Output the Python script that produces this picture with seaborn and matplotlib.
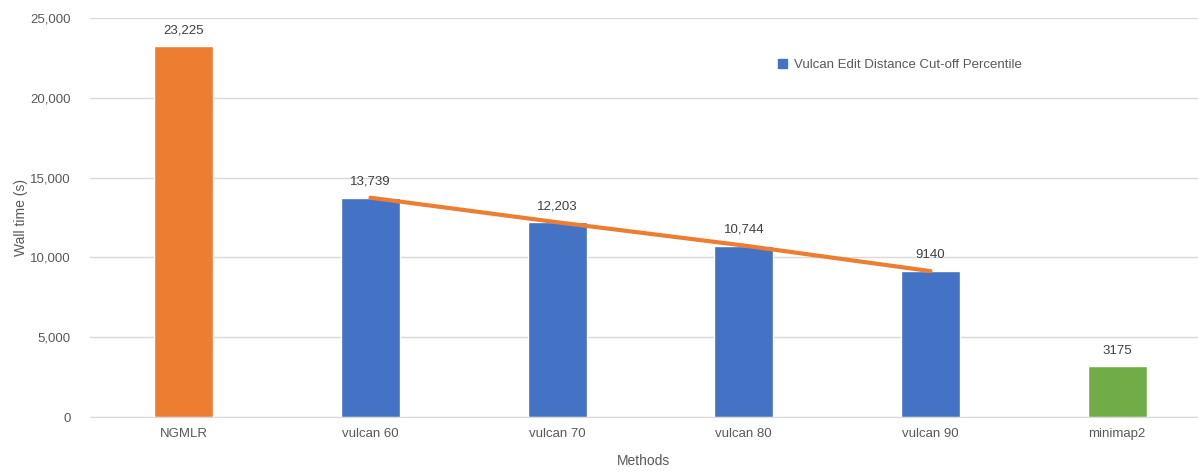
import numpy as np
import pandas as pd
import matplotlib
matplotlib.use('Agg')
import matplotlib.pyplot as plt
import seaborn as sns
from matplotlib.patches import Patch

methods = ['NGMLR', 'vulcan 60', 'vulcan 70', 'vulcan 80', 'vulcan 90', 'minimap2']
wall_time = [23225, 13739, 12203, 10744, 9140, 3175]
labels = ['23,225', '13,739', '12,203', '10,744', '9140', '3175']
colors = ['#ED7D31', '#4472C4', '#4472C4', '#4472C4', '#4472C4', '#70AD47']

df = pd.DataFrame({'Methods': methods, 'Wall time (s)': wall_time})

sns.set_style('white')
plt.rcParams['font.family'] = ['Liberation Sans', 'DejaVu Sans']
txt = '#595959'

fig = plt.figure(figsize=(11.98, 4.72), dpi=100)
ax = fig.add_axes([0.075, 0.1165, 0.925, 0.8454])

sns.barplot(data=df, x='Methods', y='Wall time (s)', hue='Methods', palette=colors,
            width=0.315, legend=False, ax=ax, saturation=1)

# trend line across the vulcan bars
idx = [methods.index(m) for m in methods if m.startswith('vulcan')]
ax.plot(idx, [wall_time[i] for i in idx], color='#ED7D31', lw=3, solid_capstyle='round', zorder=3)

for i, (v, l) in enumerate(zip(wall_time, labels)):
    ax.annotate(l, (i, v), xytext=(0, 7), textcoords='offset points',
                ha='center', va='bottom', fontsize=9.5, color='#404040')

ax.set_ylim(0, 25000)
ax.set_xlim(-0.503, 5.433)
ax.set_yticks(np.arange(0, 25001, 5000))
ax.yaxis.set_major_formatter(matplotlib.ticker.FuncFormatter(lambda v, p: f'{int(v):,}'))
ax.grid(axis='y', color='#D9D9D9', lw=1)
ax.set_axisbelow(True)
for s in ['top', 'right', 'left']:
    ax.spines[s].set_visible(False)
ax.spines['bottom'].set_color('#D9D9D9')
ax.tick_params(axis='both', length=0, labelsize=9.5, labelcolor=txt, pad=8)
ax.tick_params(axis='y', pad=14)
ax.set_xlabel('Methods', fontsize=10, color=txt, labelpad=10)
ax.set_ylabel('Wall time (s)', fontsize=10, color=txt, labelpad=1)

ax.legend(handles=[Patch(color='#4472C4', label='Vulcan Edit Distance Cut-off Percentile')],
          loc='center left', bbox_to_anchor=(0.61, 0.882), frameon=False,
          fontsize=9.5, labelcolor=txt, handlelength=0.7, handleheight=0.7, handletextpad=0.5)

fig.savefig('out.png', dpi=100)
